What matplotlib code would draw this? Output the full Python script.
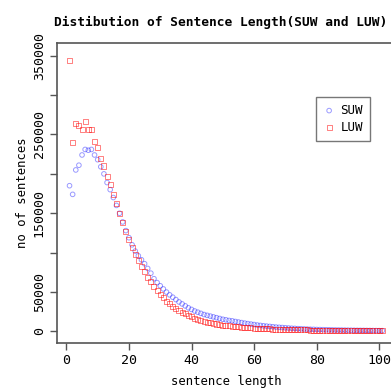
#!/usr/bin/env python3
"""
plot.py — Distribution of sentence length (SUW vs LUW), R-style scatter.

Usage:
    python3 plot.py        -> writes out.png
"""

import numpy as np
import matplotlib
matplotlib.use("Agg")
import matplotlib.pyplot as plt


# ============================================================
# Data
# ============================================================
sentence_length = list(range(1, 102))

suw_counts = [
    185000, 174000, 205000, 211000, 224000, 231000, 230000, 231000, 224000, 218000,
    209000, 200000, 189000, 180000, 170000, 160000, 150000, 139000, 128000, 119000,
    110000, 102000, 96000, 91000, 86000, 80000, 74000, 67000, 62000, 58000,
    54000, 50000, 46500, 43500, 40500, 37500, 35000, 32500, 30000, 28000,
    26000, 24500, 23000, 21500, 20500, 19500, 18500, 17500, 16500, 15500,
    14800, 14000, 13500, 12700, 12000, 11300, 10600, 10000, 9400, 8800,
    8200, 7700, 7200, 6800, 6400, 6000, 5600, 5300, 5000, 4700,
    4400, 4100, 3900, 3600, 3400, 3200, 3000, 2800, 2700, 2500,
    2400, 2300, 2200, 2100, 2000, 1900, 1850, 1800, 1700, 1650,
    1600, 1500, 1450, 1400, 1350, 1300, 1250, 1200, 1150, 1100,
    1050,
]

luw_counts = [
    344000, 240000, 264000, 262000, 256000, 266000, 256000, 256000, 241000, 233000,
    219000, 210000, 197000, 186000, 174000, 162000, 150000, 138000, 127000, 117000,
    107000, 98000, 90000, 83000, 76000, 69000, 63000, 57000, 52000, 47000,
    42500, 38500, 35000, 32000, 29500, 27000, 24500, 22500, 20500, 18500,
    17000, 15500, 14200, 13000, 12000, 11000, 10200, 9500, 8800, 8200,
    7600, 7100, 6600, 6200, 5800, 5400, 5100, 4800, 4500, 4200,
    4000, 3800, 3600, 3400, 3200, 3000, 2900, 2750, 2600, 2500,
    2400, 2300, 2200, 2100, 2000, 1950, 1900, 1800, 1750, 1700,
    1650, 1600, 1550, 1500, 1450, 1400, 1350, 1300, 1250, 1200,
    1150, 1100, 1050, 1000, 980, 950, 920, 900, 880, 850,
    820,
]

x_ticks = [0, 20, 40, 60, 80, 100]
y_ticks = [0, 50000, 100000, 150000, 200000, 250000, 300000, 350000]
y_tick_labels = ["0", "50000", "", "150000", "", "250000", "", "350000"]


# ============================================================
# Plot
# ============================================================
def main():
    font = "DejaVu Sans Mono"
    frame = "#555555"

    fig = plt.figure(figsize=(3.91, 3.88), dpi=100)
    # right edge runs slightly past the canvas, like the cropped original
    ax = fig.add_axes([0.1458, 0.116, 0.864, 0.773])

    ax.scatter(sentence_length, suw_counts, s=11, marker="o", facecolors="none",
               edgecolors="blue", linewidths=0.7, alpha=0.4, label="SUW")
    ax.scatter(sentence_length, luw_counts, s=13, marker="s", facecolors="none",
               edgecolors="red", linewidths=0.7, alpha=0.5, label="LUW")

    ax.set_xlim(-3, 105)
    ax.set_ylim(-14600, 366000)

    ax.set_xticks(x_ticks)
    ax.set_xticklabels([str(v) for v in x_ticks], fontfamily=font, fontsize=9.5)
    ax.set_yticks(y_ticks)
    ax.set_yticklabels(y_tick_labels, rotation=90, va="center",
                       fontfamily=font, fontsize=9.5)
    ax.tick_params(direction="out", length=5, width=1, color=frame, pad=3)

    for sp in ax.spines.values():
        sp.set_color(frame)
        sp.set_linewidth(1.2)

    ax.set_xlabel("sentence length", fontfamily=font, fontsize=8.8, labelpad=6)
    ax.set_ylabel("no of sentences", fontfamily=font, fontsize=8.8, labelpad=3)

    fig.text(221 / 391, 1 - 22 / 388, "Distibution of Sentence Length(SUW and LUW)",
             ha="center", va="center", fontfamily=font, fontweight="bold", fontsize=9.3)

    leg = ax.legend(loc="upper left", bbox_to_anchor=(316 / 391, 1 - 97 / 388),
                    bbox_transform=fig.transFigure, prop={"family": font, "size": 9},
                    frameon=True, fancybox=False, borderpad=0.55, handletextpad=0.4,
                    handlelength=1.0, labelspacing=0.35, borderaxespad=0)
    leg.get_frame().set_edgecolor(frame)
    leg.get_frame().set_linewidth(1.0)

    fig.savefig("out.png", dpi=100)
    plt.close(fig)


if __name__ == "__main__":
    main()
